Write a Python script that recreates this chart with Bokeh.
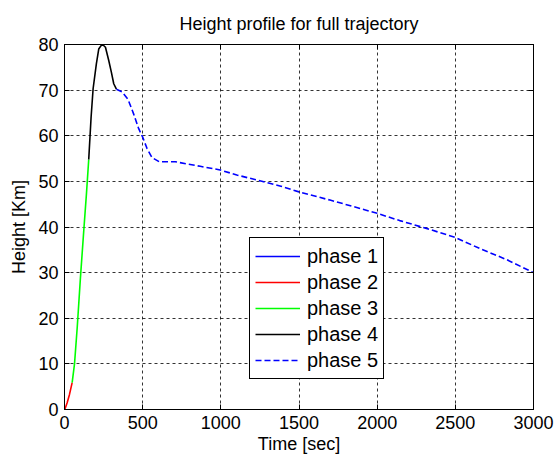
from bokeh.plotting import figure
from bokeh.models import Range1d, FixedTicker, LinearAxis, Legend, LegendItem, CustomJSTickFormatter
from bokeh.embed import file_html
from bokeh.resources import INLINE

# ---- data ----
phase1_t = [0, 2, 3]
phase1_h = [0, 0.05, 0.1]

phase2_t = [3, 17, 32, 49]
phase2_h = [0.1, 1.5, 3.3, 5.9]

phase3_t = [49, 64, 81, 102, 123, 140, 155]
phase3_h = [5.9, 10.0, 17.8, 28.9, 39.1, 47.1, 54.8]

phase4_t = [155, 170, 183, 204, 219, 235, 247, 262, 283, 300, 315, 332]
phase4_h = [54.8, 64.0, 70.3, 75.8, 79.0, 79.8, 79.9, 79.4, 76.5, 73.9, 71.4, 70.2]

phase5_t = [332, 368, 406, 442, 474, 500, 528, 560, 606, 708, 868, 996, 1102, 1230,
            1378, 1500, 1698, 1846, 2000, 2144, 2315, 2500, 2655, 2825, 3000]
phase5_h = [70.2, 69.6, 68.0, 64.8, 61.6, 59.7, 57.2, 55.2, 54.3, 54.3, 53.3, 52.5, 51.4, 50.3,
            49.0, 47.7, 45.9, 44.5, 43.0, 41.4, 39.7, 37.7, 35.3, 32.9, 30.0]

x_ticks = [0, 500, 1000, 1500, 2000, 2500, 3000]
y_ticks = [0, 10, 20, 30, 40, 50, 60, 70, 80]

FONT = "Liberation Sans"
FS = "18px"

p = figure(width=558, height=461, output_backend="svg", toolbar_location=None,
           x_range=Range1d(0, 3000), y_range=Range1d(0, 80),
           min_border_left=64, min_border_right=25, min_border_top=44, min_border_bottom=52,
           title="Height profile for full trajectory")
p.title.text_font = FONT
p.title.text_font_size = FS
p.title.text_font_style = "normal"
p.title.align = "center"
p.title.text_color = "black"
p.title.standoff = 22

p.outline_line_color = "black"
p.outline_line_width = 1
p.background_fill_color = "white"
p.border_fill_color = "white"

for ax in (p.xaxis[0], p.yaxis[0]):
    ax.major_label_text_font = FONT
    ax.major_label_text_font_size = FS
    ax.major_label_text_color = "black"
    ax.axis_label_text_font = FONT
    ax.axis_label_text_font_size = FS
    ax.axis_label_text_font_style = "normal"
    ax.axis_label_text_color = "black"
    ax.major_tick_in = 5
    ax.major_tick_out = 0
    ax.minor_tick_line_color = None
    ax.axis_line_color = "black"
    ax.major_tick_line_color = "black"
    ax.major_label_standoff = 6

p.xaxis[0].ticker = FixedTicker(ticks=x_ticks)
p.yaxis[0].ticker = FixedTicker(ticks=y_ticks)
p.xaxis[0].axis_label = "Time [sec]"
p.yaxis[0].axis_label = "Height [Km]"
p.xaxis[0].axis_label_standoff = 2
p.yaxis[0].axis_label_standoff = 6

# box ticks on top and right (no labels)
blank = CustomJSTickFormatter(code="return '';")
top_ax = LinearAxis(ticker=FixedTicker(ticks=x_ticks), formatter=blank,
                    major_label_text_font_size="2px",
                    major_tick_in=5, major_tick_out=0, minor_tick_line_color=None,
                    axis_line_color="black", major_label_standoff=0)
right_ax = LinearAxis(ticker=FixedTicker(ticks=y_ticks), formatter=blank,
                      major_label_text_font_size="2px",
                      major_tick_in=5, major_tick_out=0, minor_tick_line_color=None,
                      axis_line_color="black", major_label_standoff=0)
p.add_layout(top_ax, "above")
p.add_layout(right_ax, "right")

for g in (p.xgrid[0], p.ygrid[0]):
    g.grid_line_color = "black"
    g.grid_line_alpha = 0.8
    g.grid_line_dash = "3 3"
    g.grid_line_width = 1
p.xgrid[0].ticker = FixedTicker(ticks=x_ticks)
p.ygrid[0].ticker = FixedTicker(ticks=y_ticks)

lw = 1.6
r1 = p.line(phase1_t, phase1_h, line_color="#0000FF", line_width=lw)
r2 = p.line(phase2_t, phase2_h, line_color="#FF0000", line_width=lw)
r3 = p.line(phase3_t, phase3_h, line_color="#00FF00", line_width=lw)
r4 = p.line(phase4_t, phase4_h, line_color="#000000", line_width=lw)
r5 = p.line(phase5_t, phase5_h, line_color="#0000FF", line_width=lw, line_dash="6 3")

legend = Legend(items=[
    LegendItem(label="phase 1", renderers=[r1]),
    LegendItem(label="phase 2", renderers=[r2]),
    LegendItem(label="phase 3", renderers=[r3]),
    LegendItem(label="phase 4", renderers=[r4]),
    LegendItem(label="phase 5", renderers=[r5]),
], location=(185, 30))
legend.label_text_font = FONT
legend.label_text_font_size = "20px"
legend.label_text_color = "black"
legend.glyph_width = 45
legend.glyph_height = 26
legend.label_height = 26
legend.spacing = 0
legend.padding = 5
legend.margin = 0
legend.label_standoff = 7
legend.border_line_color = "black"
legend.border_line_alpha = 1
legend.border_line_width = 1
legend.background_fill_color = "white"
legend.background_fill_alpha = 1
p.add_layout(legend, "center")

open("out.html", "w").write(file_html(p, INLINE))
